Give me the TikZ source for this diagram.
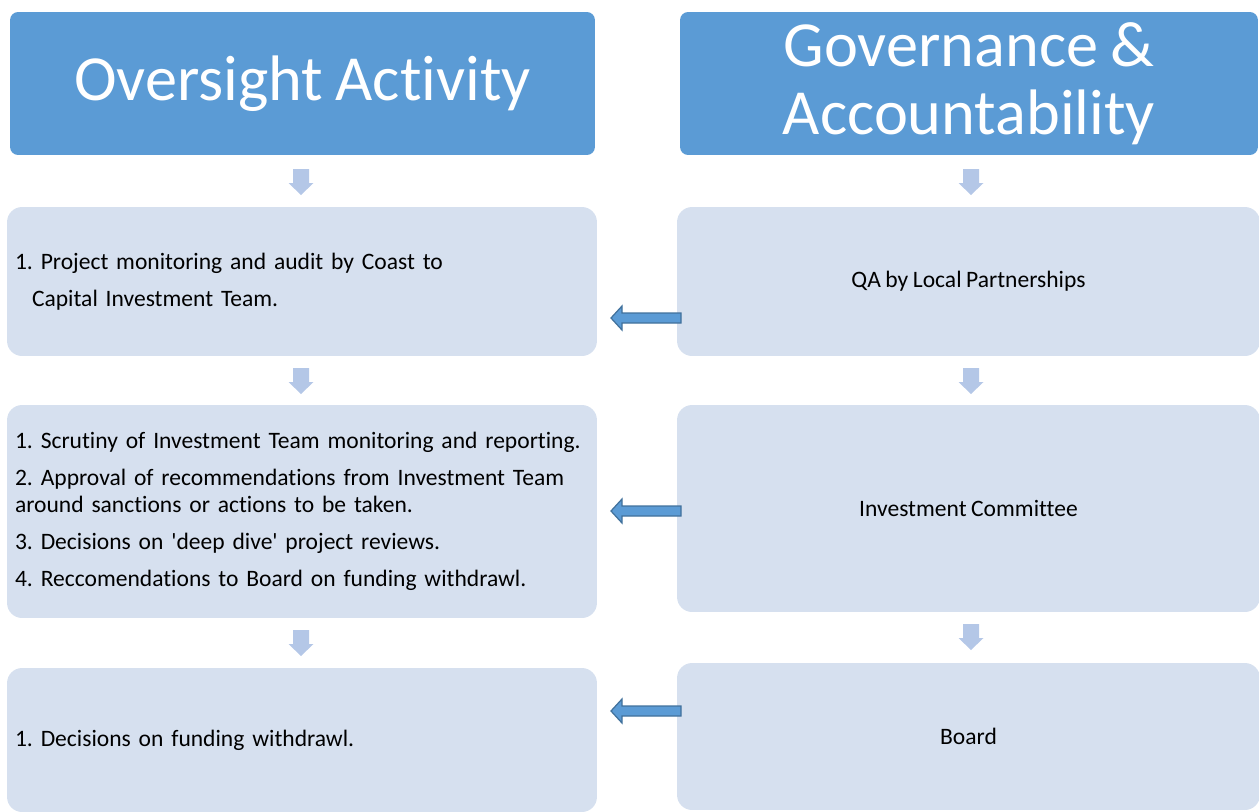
\documentclass[tikz,border=0pt]{standalone}
\usepackage{fontspec}
\setmainfont{Carlito}[WordSpace=0.85, Ligatures=NoCommon]
\usepackage{xcolor}

\definecolor{headblue}{HTML}{5B9BD5}
\definecolor{boxblue}{HTML}{D6E0EF}
\definecolor{downblue}{HTML}{B4C7E7}
\definecolor{edgeblue}{HTML}{41719C}

\begin{document}
\frenchspacing
\begin{tikzpicture}[x=0.02cm, y=-0.02cm,
    head/.style = {fill=headblue, rounded corners=0.16cm, text=white, align=center,
                   font=\fontsize{36.6}{38.5}\selectfont, minimum height=2.86cm, inner sep=0pt},
    item/.style = {fill=boxblue, rounded corners=0.3cm, align=left, inner sep=0.16cm,
                   font=\fontsize{13.4}{15.3}\selectfont},
    down/.style = {fill=downblue},
    back/.style = {fill=headblue, draw=edgeblue, line width=0.7pt}]
      \useasboundingbox (0,0) rectangle (1259,812);

      % headings
      \node[head, minimum width=11.7cm]  (oversight) at (302.5,83.5) {Oversight Activity};
      \node[head, minimum width=11.56cm] (governance) at (969,83.5) {Governance \&\\Accountability};

      % left column
      \node[item, minimum width=11.8cm, minimum height=2.98cm, text width=11.48cm] (monitor) at (302,281.5)
        {1. Project monitoring and audit by Coast to\\[5.7pt]\hspace{0.34cm}Capital Investment Team.};
      \node[item, minimum width=11.8cm, minimum height=4.26cm, text width=11.48cm] (scrutiny) at (302,511.5)
        {1. Scrutiny of Investment Team monitoring and reporting.\\[5.7pt]
         2. Approval of recommendations from Investment Team\\
         around sanctions or actions to be taken.\\[5.7pt]
         3. Decisions on \textquotesingle deep dive\textquotesingle{} project reviews.\\[5.7pt]
         4. Reccomendations to Board on funding withdrawl.};
      \node[item, minimum width=11.8cm, minimum height=2.88cm, text width=11.48cm] (decide) at (302,740)
        {1. Decisions on funding withdrawl.};

      % right column
      \node[item, align=center, minimum width=11.66cm, minimum height=2.98cm] (qa) at (968.5,281.5)
        {QA by Local Partnerships};
      \node[item, align=center, minimum width=11.66cm, minimum height=4.14cm] (committee) at (968.5,508.5)
        {Investment Committee};
      \node[item, align=center, minimum width=11.66cm, minimum height=2.94cm] (board) at (968.5,736.5)
        {Board};

      % down arrows
      \coordinate (d1) at (301,182);
      \coordinate (d2) at (301,381);
      \coordinate (d3) at (301,643);
      \coordinate (d4) at (971,182);
      \coordinate (d5) at (971,381);
      \coordinate (d6) at (971,637);
      \foreach \d in {d1,d2,d3,d4,d5,d6}
        \fill[down, shift={(\d)}] (-8,-13) -- (8,-13) -- (8,1) -- (12.5,1) -- (0,13)
                                  -- (-12.5,1) -- (-8,1) -- cycle;

      % arrows back to the left column
      \coordinate (b1) at (646,318);
      \coordinate (b2) at (646,511);
      \coordinate (b3) at (646,711);
      \foreach \b in {b1,b2,b3}
        \draw[back, shift={(\b)}] (35,-5) -- (-24,-5) -- (-24,-12) -- (-35,0) -- (-24,12)
                                  -- (-24,5) -- (35,5) -- cycle;

    \end{tikzpicture}
\end{document}
